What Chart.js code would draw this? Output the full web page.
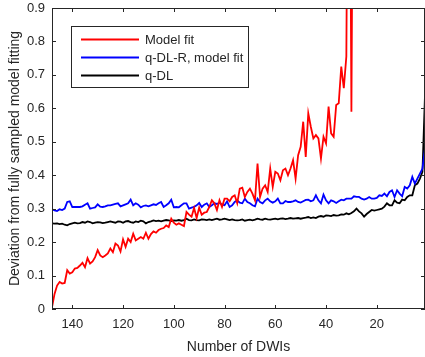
<!DOCTYPE html>
<html>
<head>
<meta charset="utf-8">
<script src="https://cdn.jsdelivr.net/npm/chart.js@4.4.0/dist/chart.umd.min.js"></script>
<style>
  html, body { margin: 0; padding: 0; background: #fff; }
  canvas { display: block; }
</style>
</head>
<body>
<canvas id="devChart" width="425" height="357"></canvas>
<script>
// number of DWIs kept, from 148 down to 1
const dwiCounts = [
  148, 147, 146, 145, 144, 143, 142, 141, 140, 139,
  138, 137, 136, 135, 134, 133, 132, 131, 130, 129,
  128, 127, 126, 125, 124, 123, 122, 121, 120, 119,
  118, 117, 116, 115, 114, 113, 112, 111, 110, 109,
  108, 107, 106, 105, 104, 103, 102, 101, 100, 99,
  98, 97, 96, 95, 94, 93, 92, 91, 90, 89,
  88, 87, 86, 85, 84, 83, 82, 81, 80, 79,
  78, 77, 76, 75, 74, 73, 72, 71, 70, 69,
  68, 67, 66, 65, 64, 63, 62, 61, 60, 59,
  58, 57, 56, 55, 54, 53, 52, 51, 50, 49,
  48, 47, 46, 45, 44, 43, 42, 41, 40, 39,
  38, 37, 36, 35, 34, 33, 32, 31, 30, 29,
  28, 27, 26, 25, 24, 23, 22, 21, 20, 19,
  18, 17, 16, 15, 14, 13, 12, 11, 10, 9,
  8, 7, 6, 5, 4, 3, 2, 1
];

// Model fit (148 .. 29, blows up past the top after that)
const modelFit = [
  0.005, 0.045, 0.07, 0.081, 0.076, 0.078, 0.116, 0.106, 0.11, 0.121,
  0.123, 0.13, 0.138, 0.125, 0.152, 0.136, 0.142, 0.155, 0.176, 0.16,
  0.155, 0.16, 0.166, 0.181, 0.17, 0.196, 0.19, 0.172, 0.208, 0.186,
  0.21, 0.2, 0.225, 0.205, 0.21, 0.215, 0.21, 0.228, 0.21, 0.224,
  0.232, 0.228, 0.236, 0.24, 0.242, 0.25, 0.245, 0.27, 0.258, 0.252,
  0.256, 0.252, 0.248, 0.29, 0.282, 0.276, 0.302, 0.272, 0.303, 0.282,
  0.288, 0.29, 0.305, 0.325, 0.316, 0.296, 0.325, 0.305, 0.33, 0.33,
  0.322, 0.335, 0.34, 0.316, 0.36, 0.363, 0.335, 0.35, 0.36, 0.345,
  0.325, 0.435, 0.335, 0.36, 0.37, 0.35, 0.42, 0.365, 0.41, 0.405,
  0.385, 0.415, 0.42, 0.4, 0.42, 0.445, 0.39, 0.46, 0.485, 0.56,
  0.455, 0.585, 0.545, 0.51, 0.52, 0.51, 0.45, 0.515, 0.495, 0.605,
  0.525, 0.515, 0.61, 0.615, 0.725, 0.66, 0.755, 2.0, 0.59, 2.0
];

// q-DL-R, model fit
const qdlrFit = [
  0.298, 0.295, 0.293, 0.298, 0.296, 0.3, 0.32, 0.322, 0.305, 0.305,
  0.305, 0.305, 0.307, 0.312, 0.316, 0.3, 0.302, 0.304, 0.313, 0.306,
  0.305, 0.307, 0.31, 0.31, 0.312, 0.314, 0.316, 0.307, 0.31, 0.313,
  0.316, 0.327, 0.31, 0.316, 0.312, 0.304, 0.308, 0.31, 0.307, 0.31,
  0.313, 0.311, 0.316, 0.32, 0.305, 0.31, 0.316, 0.327, 0.304, 0.305,
  0.304, 0.31, 0.316, 0.316, 0.3, 0.303, 0.305, 0.31, 0.317, 0.305,
  0.312, 0.316, 0.305, 0.31, 0.316, 0.314, 0.318, 0.312, 0.31, 0.322,
  0.305, 0.31, 0.32, 0.325, 0.318, 0.316, 0.33, 0.32, 0.316, 0.31,
  0.307, 0.33, 0.32, 0.316, 0.325, 0.33, 0.322, 0.318, 0.322, 0.33,
  0.316, 0.316, 0.323, 0.32, 0.32, 0.322, 0.325, 0.32, 0.318, 0.322,
  0.326, 0.327, 0.322, 0.325, 0.34, 0.325, 0.316, 0.342, 0.325, 0.316,
  0.325, 0.322, 0.317, 0.322, 0.327, 0.325, 0.33, 0.33, 0.33, 0.337,
  0.335, 0.335, 0.33, 0.327, 0.33, 0.335, 0.33, 0.33, 0.332, 0.34,
  0.338, 0.345, 0.337, 0.35, 0.355, 0.335, 0.355, 0.345, 0.337, 0.365,
  0.36, 0.37, 0.395, 0.375, 0.39, 0.405, 0.42, 0.48
];

// q-DL
const qdl = [
  0.256, 0.255, 0.256, 0.254, 0.255, 0.252, 0.25, 0.254, 0.256, 0.258,
  0.256, 0.257, 0.26, 0.258, 0.262, 0.26, 0.256, 0.258, 0.26, 0.259,
  0.257, 0.258, 0.26, 0.262, 0.26, 0.258, 0.262, 0.261, 0.258, 0.262,
  0.263, 0.26, 0.258, 0.262, 0.26, 0.264, 0.262, 0.256, 0.26, 0.262,
  0.265, 0.263, 0.264, 0.262, 0.264, 0.266, 0.265, 0.263, 0.265, 0.264,
  0.266, 0.264, 0.266, 0.27, 0.266, 0.265, 0.268, 0.266, 0.265, 0.268,
  0.267, 0.266, 0.268, 0.266, 0.268, 0.27, 0.267, 0.268, 0.27, 0.268,
  0.266, 0.268, 0.266, 0.265, 0.266, 0.268, 0.264, 0.266, 0.267, 0.265,
  0.267, 0.27, 0.268, 0.267, 0.27, 0.268, 0.267, 0.269, 0.27, 0.268,
  0.27, 0.271, 0.269, 0.27, 0.272, 0.27, 0.271, 0.272, 0.27, 0.272,
  0.273, 0.275, 0.272, 0.274, 0.272, 0.276, 0.278, 0.276, 0.28, 0.279,
  0.278, 0.281, 0.279, 0.28, 0.283, 0.282, 0.286, 0.283, 0.287, 0.292,
  0.3, 0.292, 0.286, 0.276, 0.284, 0.29, 0.296, 0.294, 0.296, 0.298,
  0.3, 0.306, 0.316, 0.31, 0.31, 0.325, 0.318, 0.316, 0.327, 0.325,
  0.335, 0.34, 0.34, 0.37, 0.375, 0.39, 0.41, 0.64
];

const seriesNames = ['Model fit', 'q-DL-R, model fit', 'q-DL'];
const seriesColors = ['#ff0000', '#0000ff', '#000000'];
const xTicks = [140, 120, 100, 80, 60, 40, 20];
const yTicks = [0, 0.1, 0.2, 0.3, 0.4, 0.5, 0.6, 0.7, 0.8, 0.9];

const axisColor = '#262626';
const fontFamily = '"Liberation Sans", Arial, Helvetica, sans-serif';

function toPoints(values) {
  return values.map((v, i) => ({ x: dwiCounts[i], y: v }));
}

// matlab style box: ticks pointing inwards on all four sides, plus the legend
const boxAndLegend = {
  id: 'boxAndLegend',
  afterDatasetsDraw(chart) {
    const { ctx, chartArea: a, scales: { x, y } } = chart;
    ctx.save();
    ctx.strokeStyle = axisColor;
    ctx.lineWidth = 1;
    ctx.strokeRect(a.left + 0.5, a.top + 0.5, a.right - a.left - 1, a.bottom - a.top - 1);
    ctx.beginPath();
    x.ticks.forEach(t => {
      const px = Math.round(x.getPixelForValue(t.value)) + 0.5;
      ctx.moveTo(px, a.bottom); ctx.lineTo(px, a.bottom - 4);
      ctx.moveTo(px, a.top); ctx.lineTo(px, a.top + 4);
    });
    y.ticks.forEach(t => {
      const py = Math.round(y.getPixelForValue(t.value)) + 0.5;
      ctx.moveTo(a.left, py); ctx.lineTo(a.left + 4, py);
      ctx.moveTo(a.right, py); ctx.lineTo(a.right - 4, py);
    });
    ctx.stroke();

    // legend box
    const lx = a.left + 19, ly = a.top + 18, lw = 177, lh = 61;
    ctx.fillStyle = '#fff';
    ctx.fillRect(lx, ly, lw, lh);
    ctx.strokeRect(lx + 0.5, ly + 0.5, lw, lh);
    ctx.font = '13px ' + fontFamily;
    ctx.textBaseline = 'middle';
    chart.data.datasets.forEach((ds, i) => {
      const rowY = ly + 13.5 + i * 18;
      ctx.strokeStyle = ds.borderColor;
      ctx.lineWidth = 1.8;
      ctx.beginPath();
      ctx.moveTo(lx + 10, rowY);
      ctx.lineTo(lx + 68, rowY);
      ctx.stroke();
      ctx.fillStyle = axisColor;
      ctx.fillText(ds.label, lx + 74, rowY + 0.5);
    });
    ctx.restore();
  }
};

new Chart(document.getElementById('devChart'), {
  type: 'line',
  data: {
    datasets: [
      { label: seriesNames[0], data: toPoints(modelFit), borderColor: seriesColors[0] },
      { label: seriesNames[1], data: toPoints(qdlrFit), borderColor: seriesColors[1] },
      { label: seriesNames[2], data: toPoints(qdl), borderColor: seriesColors[2] }
    ]
  },
  options: {
    responsive: false,
    animation: false,
    parsing: false,
    datasets: {
      line: { borderWidth: 1.8, pointRadius: 0, tension: 0, fill: false }
    },
    layout: { padding: { top: 8, right: -1, left: 0, bottom: 0 } },
    plugins: {
      legend: { display: false },
      tooltip: { enabled: false }
    },
    scales: {
      x: {
        type: 'linear',
        reverse: true,
        min: 1,
        max: 148,
        afterBuildTicks: s => { s.ticks = xTicks.map(v => ({ value: v })); },
        afterFit: s => { s.height = 48; s.paddingLeft = 0; s.paddingRight = 0; },
        grid: { display: false, drawTicks: false },
        border: { display: false },
        ticks: { color: axisColor, padding: 8, font: { size: 13, family: fontFamily }, maxRotation: 0 },
        title: {
          display: true,
          text: 'Number of DWIs',
          color: axisColor,
          font: { size: 14, family: fontFamily },
          padding: { top: 3, bottom: 1 }
        }
      },
      y: {
        min: 0,
        max: 0.9,
        afterBuildTicks: s => { s.ticks = yTicks.map(v => ({ value: v })); },
        afterFit: s => { s.width = 52; s.paddingTop = 0; s.paddingBottom = 0; },
        grid: { display: false, drawTicks: false },
        border: { display: false },
        ticks: { color: axisColor, padding: 7, font: { size: 13, family: fontFamily }, callback: v => String(v) },
        title: {
          display: true,
          text: 'Deviation from fully sampled model fitting',
          color: axisColor,
          font: { size: 14, family: fontFamily },
          padding: { top: 7, bottom: 0 }
        }
      }
    }
  },
  plugins: [boxAndLegend]
});
</script>
</body>
</html>
